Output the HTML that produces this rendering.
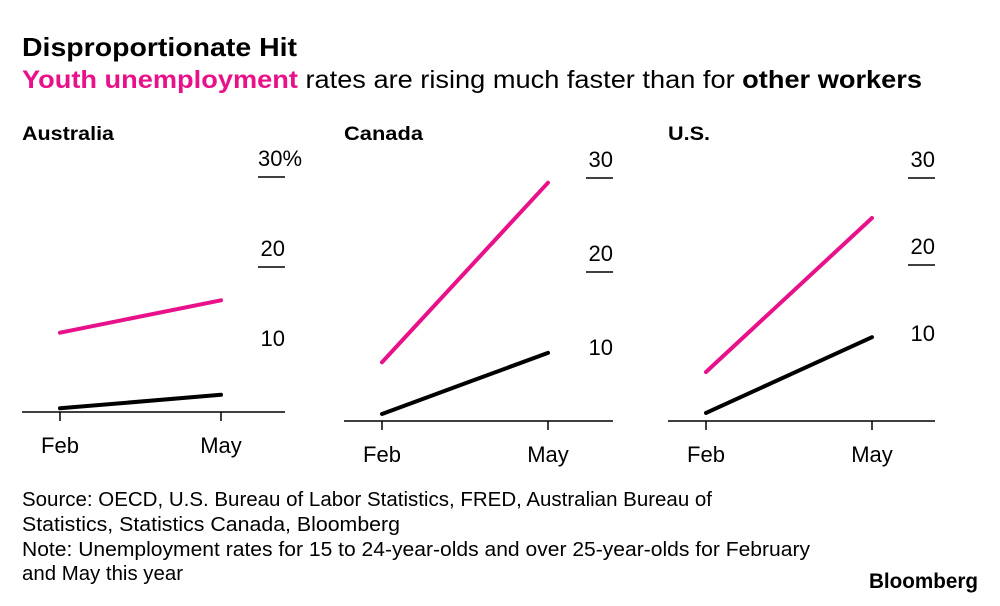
<!DOCTYPE html>
<html><head><meta charset="utf-8"><style>
body{margin:0;background:#fff;width:1000px;height:601px;overflow:hidden;font-family:"Liberation Sans",Arial,sans-serif}
</style></head><body>
<svg width="1000" height="601" font-family="Liberation Sans, Arial, sans-serif">
<text x="22" y="56" font-size="26" font-weight="bold" textLength="275" lengthAdjust="spacingAndGlyphs">Disproportionate Hit</text>
<text x="22" y="88" font-size="25" textLength="900" lengthAdjust="spacingAndGlyphs"><tspan fill="#e8118a" font-weight="bold">Youth unemployment</tspan> rates are rising much faster than for <tspan font-weight="bold">other workers</tspan></text>
<g id="panels"></g>
<text x="22" y="506" font-size="20" textLength="690" lengthAdjust="spacingAndGlyphs">Source: OECD, U.S. Bureau of Labor Statistics, FRED, Australian Bureau of</text>
<text x="22" y="531" font-size="20" textLength="378" lengthAdjust="spacingAndGlyphs">Statistics, Statistics Canada, Bloomberg</text>
<text x="22" y="556" font-size="20" textLength="788" lengthAdjust="spacingAndGlyphs">Note: Unemployment rates for 15 to 24-year-olds and over 25-year-olds for February</text>
<text x="22" y="580" font-size="20" textLength="161" lengthAdjust="spacingAndGlyphs">and May this year</text>
<text x="978" y="588" font-size="21" font-weight="bold" text-anchor="end" textLength="109" lengthAdjust="spacingAndGlyphs">Bloomberg</text>
</svg>
<script>
const countries=["Australia","Canada","U.S."];
const titleWidths=[92,79,42];
const months=["Feb","May"];
const youth=[[12.7,16.3],[10.4,29.5],[7.7,25.4]];
const older=[[4.3,5.8],[4.9,11.4],[3.0,11.7]];
const ticks=[30,20,10];
const tickLabels=[["30%","20","10"],["30","20","10"],["30","20","10"]];
const layout=[{x0:22,x1:285,xf:60,xm:221,y30:177,step:9.0,base:412},
{x0:344,x1:613,xf:382,xm:548,y30:178,step:9.4,base:421},
{x0:668,x1:935,xf:706,xm:872,y30:178,step:8.7,base:421}];
const NS="http://www.w3.org/2000/svg";
const g=document.getElementById('panels');
function mk(t,a,p){const e=document.createElementNS(NS,t);for(const k in a)e.setAttribute(k,a[k]);(p||g).appendChild(e);return e;}
countries.forEach((c,i)=>{
 const L=layout[i];
 const y=v=>L.y30+(30-v)*L.step;
 const x=j=>j===0?L.xf:L.xm;
 const pg=mk('g',{});
 
 
 const t=mk('text',{x:L.x0,y:140,'font-size':19,'font-weight':'bold',textLength:titleWidths[i],lengthAdjust:'spacingAndGlyphs'},pg);t.textContent=c;
 
 
 ticks.forEach((v,k)=>{
  const ty=y(v);
  if(v!==10){const ln=mk('line',{x1:L.x1-27,x2:L.x1,y1:ty,y2:ty,stroke:'#000','stroke-width':1.5},pg);
   
   }
  const lab=tickLabels[i][k];
  const attrs=lab.indexOf('%')>=0?{x:L.x1-27,y:ty-11,'font-size':22}:{x:L.x1,y:ty-11,'font-size':22,'text-anchor':'end'};
  const lt=mk('text',attrs,pg);lt.textContent=lab;
  
  
 });
 const b=mk('line',{x1:L.x0,x2:L.x1,y1:L.base,y2:L.base,stroke:'#000','stroke-width':1.5},pg);
 
 
 months.forEach((m,j)=>{
  const tk=mk('line',{x1:x(j),x2:x(j),y1:L.base,y2:L.base+9,stroke:'#000','stroke-width':1.5},pg);
  
  
  const tl=mk('text',{x:x(j),y:L.base+41,'font-size':22,'text-anchor':'middle'},pg);tl.textContent=m;
  
  
 });
 const yl=mk('line',{x1:x(0),y1:y(youth[i][0]),x2:x(1),y2:y(youth[i][1]),stroke:'#e8118a','stroke-width':4,'stroke-linecap':'round'},pg);
 
 
 const ol=mk('line',{x1:x(0),y1:y(older[i][0]),x2:x(1),y2:y(older[i][1]),stroke:'#000','stroke-width':4,'stroke-linecap':'round'},pg);
 
 
});
</script>
</body></html>
